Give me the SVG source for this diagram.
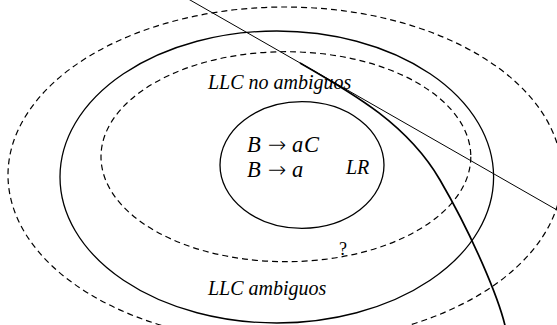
<svg xmlns="http://www.w3.org/2000/svg" width="557" height="325" viewBox="0 0 557 325">
<style>
.solid{fill:none;stroke:#000;stroke-width:1.3}
.dash{fill:none;stroke:#000;stroke-width:1.2;stroke-dasharray:6 4}
.lbl{font-family:"Liberation Serif","Times New Roman",serif;font-style:italic;fill:#000}
.up{font-style:normal}
.arr{font-family:"DejaVu Sans",sans-serif;font-style:normal;font-weight:200;font-size:22px}
</style>
<rect width="557" height="325" fill="#fff"/>
<g id="outer-dashed">
<ellipse class="dash" cx="285" cy="175" rx="277" ry="168"/>
</g>
<g id="llc-ambiguos">
<ellipse class="solid" cx="276.8" cy="177" rx="216.8" ry="146"/>
<text class="lbl" x="208" y="295" font-size="20">LLC ambiguos</text>
</g>
<g id="llc-no-ambiguos">
<ellipse class="dash" cx="285.9" cy="156.7" rx="184.9" ry="105"/>
<text class="lbl" x="208" y="89" font-size="20">LLC no ambiguos</text>
<text class="lbl up" x="339" y="255" font-size="18">?</text>
</g>
<g id="lr">
<ellipse class="solid" cx="302" cy="165" rx="82" ry="63.3"/>
<text class="lbl" font-size="22.5" y="151.5"><tspan x="247">B</tspan><tspan class="arr" x="268">→</tspan><tspan x="292">a</tspan><tspan x="304">C</tspan></text>
<text class="lbl" font-size="22.5" y="176.5"><tspan x="247">B</tspan><tspan class="arr" x="268">→</tspan><tspan x="292">a</tspan></text>
<text class="lbl" x="346" y="173.5" font-size="20">LR</text>
</g>
<g id="connectors">
<line x1="188.3" y1="-1" x2="558" y2="210.6" stroke="#000" stroke-width="1"/>
<path d="M300 63 C 355 94.5, 408 125, 440 180 S 500 300, 506 330" fill="none" stroke="#000" stroke-width="1.7"/>
</g>
</svg>
